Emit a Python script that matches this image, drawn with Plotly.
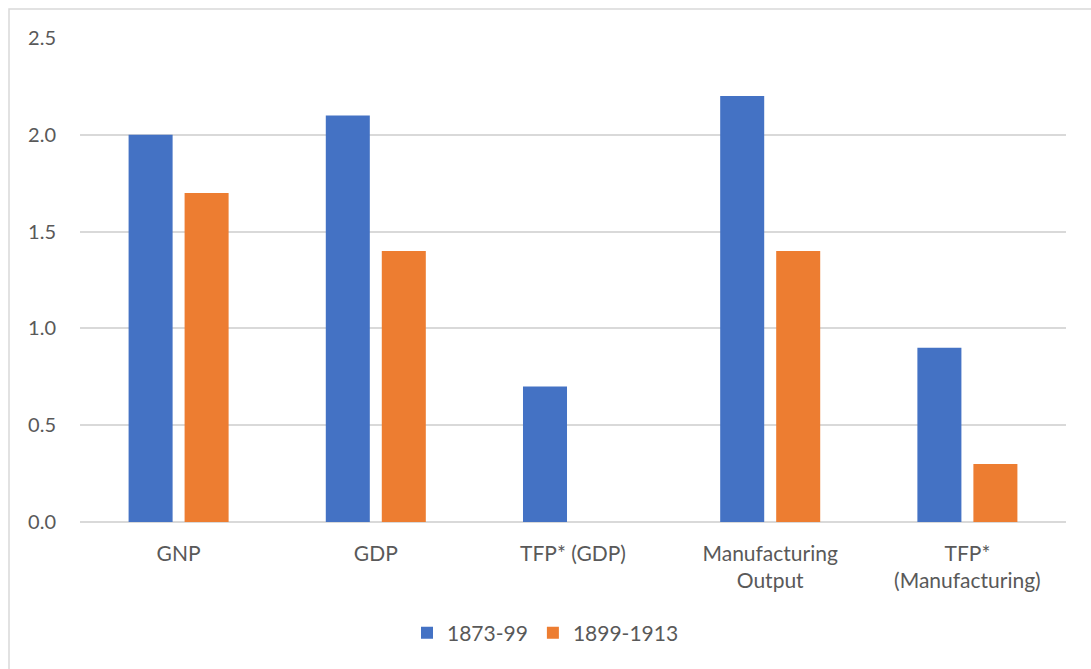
import plotly.graph_objects as go

categories = ["GNP", "GDP", "TFP* (GDP)", "Manufacturing<br>Output", "TFP*<br>(Manufacturing)"]
series_a_name = "1873-99"
series_b_name = "1899-1913"
series_a = [2.0, 2.1, 0.7, 2.2, 0.9]
series_b = [1.7, 1.4, None, 1.4, 0.3]
y_ticks = [0.0, 0.5, 1.0, 1.5, 2.0, 2.5]

W, H = 1091, 669
ml, mr, mt, mb = 80, 25, 38, 147
pw, ph = W - ml - mr, H - mt - mb

font_family = "Lato, 'Open Sans', sans-serif"
text_color = "#595959"

fig = go.Figure()
fig.add_trace(go.Bar(x=categories, y=series_a, name=series_a_name,
                     marker=dict(color="#4472C4", line=dict(width=0))))
fig.add_trace(go.Bar(x=categories, y=series_b, name=series_b_name,
                     marker=dict(color="#ED7D31", line=dict(width=0))))

# outer chart frame (top and left edges visible)
fig.add_shape(type="rect", xref="paper", yref="paper",
              x0=(9 - ml) / pw, x1=1.2,
              y0=-0.5, y1=1 + (mt - 9) / ph,
              line=dict(color="#D9D9D9", width=1.5), layer="below")

fig.update_layout(
    width=W, height=H,
    margin=dict(l=ml, r=mr, t=mt, b=mb),
    paper_bgcolor="white", plot_bgcolor="white",
    barmode="group", bargap=0.432, bargroupgap=0.214,
    font=dict(family=font_family, size=20, color=text_color),
    showlegend=True,
    legend=dict(orientation="h", x=0.5, xref="container", xanchor="center",
                y=(H - 633) / H, yref="container", yanchor="middle",
                font=dict(size=21, color=text_color), itemwidth=30,
                traceorder="normal"),
    xaxis=dict(showgrid=False, showline=False, ticks="", zeroline=False,
               ticklabelstandoff=17, tickfont=dict(size=21, color=text_color)),
    yaxis=dict(range=[0, 2.5], tickvals=y_ticks, tickformat=".1f",
               showgrid=True, gridcolor="#D9D9D9", gridwidth=1.5,
               zeroline=True, zerolinecolor="#D9D9D9", zerolinewidth=1.5,
               showline=False, ticks="", ticklabelstandoff=23,
               tickfont=dict(size=20, color=text_color)),
)

fig.write_html("out.html")
